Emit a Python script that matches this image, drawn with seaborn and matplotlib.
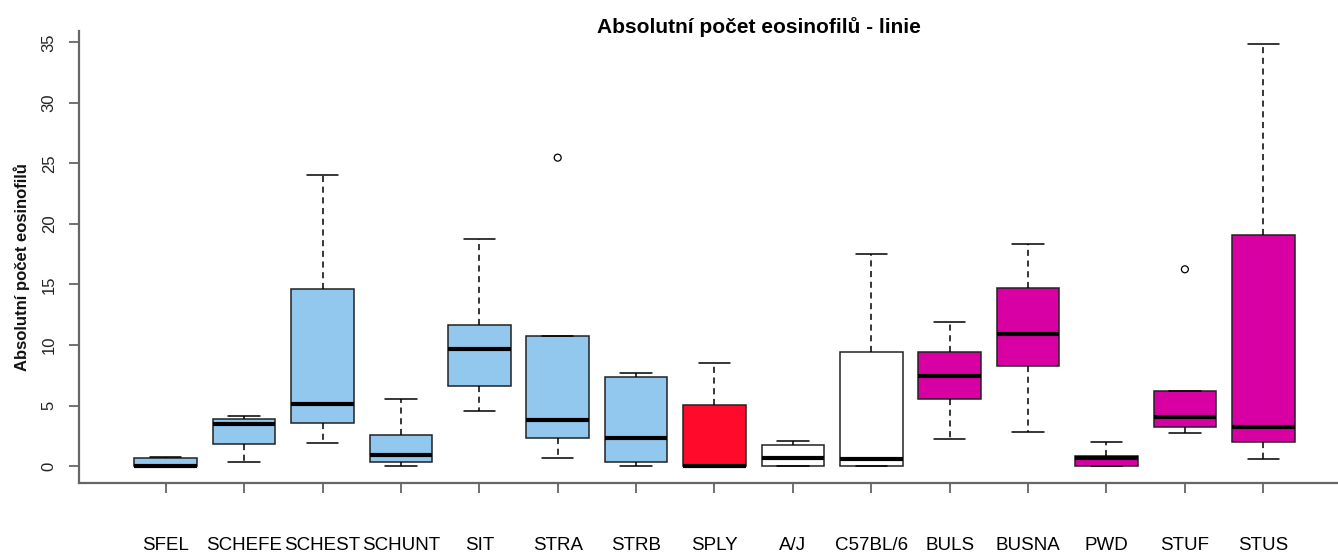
import numpy as np
import pandas as pd
import matplotlib
matplotlib.use("Agg")
import matplotlib.pyplot as plt
from matplotlib.collections import PathCollection
import seaborn as sns

# ---- data (five-number summaries per line) ----
strains = ["SFEL", "SCHEFE", "SCHEST", "SCHUNT", "SIT", "STRA", "STRB", "SPLY",
           "A/J", "C57BL/6", "BULS", "BUSNA", "PWD", "STUF", "STUS"]
low_whisker = [0.0, 0.30, 1.87, 0.0, 4.57, 0.69, 0.0, 0.0, 0.0, 0.0, 2.20, 2.84, 0.0, 2.70, 0.61]
q1 =          [0.0, 1.79, 3.58, 0.30, 6.64, 2.29, 0.30, 0.0, 0.0, 0.0, 5.56, 8.26, 0.0, 3.25, 1.96]
medians =     [0.0, 3.47, 5.15, 0.94, 9.69, 3.80, 2.29, 0.0, 0.69, 0.58, 7.46, 10.91, 0.69, 4.05, 3.25]
q3 =          [0.70, 3.86, 14.62, 2.53, 11.62, 10.71, 7.38, 5.07, 1.74, 9.45, 9.45, 14.73, 0.80, 6.20, 19.11]
high_whisker = [0.75, 4.10, 24.04, 5.56, 18.75, 10.71, 7.71, 8.48, 2.07, 17.52, 11.90, 18.37, 1.96, 6.20, 34.89]
outlier_strain = ["STRA", "STUF"]
outlier_value = [25.47, 16.25]

group = ["blue"] * 7 + ["red"] + ["white"] * 2 + ["magenta"] * 5
group_colors = {"blue": "#92C8EE", "red": "#FF0A2B", "white": "#FFFFFF", "magenta": "#D900A3"}

# build a long table whose quartiles reproduce the summaries
rows = []
for i, s in enumerate(strains):
    for v in (low_whisker[i], q1[i], medians[i], q3[i], high_whisker[i]):
        rows.append((s, v))
df = pd.DataFrame(rows, columns=["linie", "value"])
df_out = pd.DataFrame({"linie": outlier_strain, "value": outlier_value})
palette = {s: group_colors[g] for s, g in zip(strains, group)}

sns.set_style("white")
plt.rcParams["font.family"] = ["Liberation Sans", "DejaVu Sans"]

fig = plt.figure(figsize=(13.38, 5.53), dpi=100)
ax = fig.add_axes([79 / 1338, 1 - 483 / 553, 1 - 79 / 1338, (483 - 31) / 553])

sns.boxplot(data=df, x="linie", y="value", hue="linie", order=strains, hue_order=strains,
            palette=palette, legend=False, saturation=1, width=0.8, whis=1.5,
            linecolor="black", linewidth=1.1, ax=ax, showfliers=False,
            medianprops=dict(color="black", linewidth=3, solid_capstyle="butt"),
            whiskerprops=dict(color="black", linestyle=(0, (4, 3)), linewidth=1.1),
            capprops=dict(color="black", linewidth=1.1),
            boxprops=dict(edgecolor="#222222"))

sns.stripplot(data=df_out, x="linie", y="value", order=strains, jitter=False,
              color="black", size=5, ax=ax, zorder=5)
for coll in ax.collections:
    if isinstance(coll, PathCollection):
        coll.set_facecolor("none")
        coll.set_edgecolor("black")
        coll.set_linewidth(0.9)

ax.set_xlim(-1.106, 14.953)
ax.set_ylim(-1.40, 35.93)
ax.set_yticks(range(0, 36, 5))
ax.set_yticklabels([str(v) for v in range(0, 36, 5)], rotation=90, va="center",
                   fontsize=12, color="#222222")
ax.set_xticks(range(len(strains)))
ax.set_xticklabels(strains, fontsize=13.5, color="black")
ax.tick_params(axis="x", length=7, width=1.3, color="#666666", pad=32, direction="out", bottom=True)
ax.tick_params(axis="y", length=7, width=1.3, color="#666666", pad=9, direction="out", left=True)

for side in ("top", "right"):
    ax.spines[side].set_visible(False)
for side in ("left", "bottom"):
    ax.spines[side].set_color("#666666")
    ax.spines[side].set_linewidth(1.6)

ax.set_xlabel("")
ax.set_ylabel("")
fig.text(22 / 1338, 1 - 267 / 553, "Absolutní počet eosinofilů", rotation=90,
         ha="center", va="center", fontsize=12, fontweight="bold", color="#111111")
fig.text(759 / 1338, 1 - 27 / 553, "Absolutní počet eosinofilů - linie",
         ha="center", va="center", fontsize=15, fontweight="bold", color="black")

fig.savefig("out.png", dpi=100)
